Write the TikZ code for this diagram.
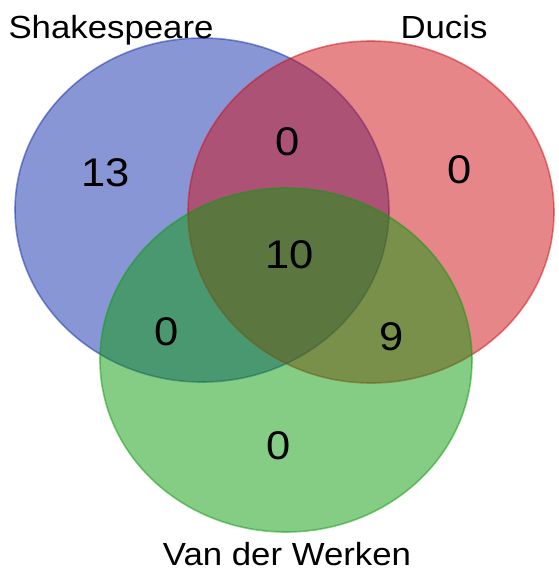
\documentclass[tikz,border=0pt]{standalone}
\usepackage{fontspec}
\setmainfont[FakeStretch=1.087]{Liberation Sans}
\begin{document}
\begin{tikzpicture}[x=1pt,y=-1pt,
  setfill/.style={fill=#1, draw=#1, opacity=0.5, line width=1.6pt},
  setlabel/.style={anchor=base, inner sep=0pt, font=\fontsize{32}{38}\selectfont},
  count/.style={anchor=center, inner sep=0pt, font=\fontsize{40}{48}\selectfont}]
\definecolor{vblue}{RGB}{19,47,173}
\definecolor{vred}{RGB}{209,15,21}
\definecolor{vgreen}{RGB}{13,155,13}
\useasboundingbox (0,0) rectangle (558,568);
\fill[white] (0,0) rectangle (558,568);
\path[setfill=vblue] (202,210) ellipse [x radius=187pt, y radius=172pt];
\path[setfill=vred] (371,212) ellipse [x radius=183pt, y radius=171pt];
\path[setfill=vgreen] (286,360) ellipse [x radius=186pt, y radius=172pt];
\node[setlabel] (lS) at (111,38) {Shakespeare};
\node[setlabel] (lD) at (444,38) {Ducis};
\node[setlabel] (lV) at (287,565) {Van der Werken};
\node[count] (nS) at (106,172.5) {13};
\node[count] (nSD) at (288,142) {0};
\node[count] (nD) at (460,170) {0};
\node[count] (nSDV) at (290,255) {10};
\node[count] (nSV) at (167,332) {0};
\node[count] (nDV) at (391.5,336.5) {9};
\node[count] (nV) at (279,446) {0};
\end{tikzpicture}
\end{document}
